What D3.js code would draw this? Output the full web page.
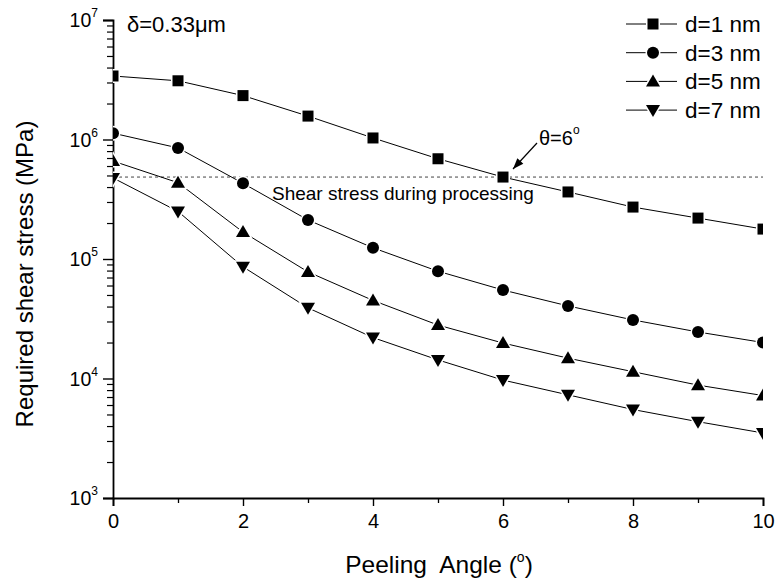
<!DOCTYPE html>
<html><head><meta charset="utf-8">
<script src="https://cdn.jsdelivr.net/npm/d3@7/dist/d3.min.js"></script>
<style>body{margin:0;background:#fff}svg{display:block}text{font-family:"Liberation Sans",Arial,sans-serif;fill:#000}</style>
</head><body><svg id="chart" width="776" height="583"></svg>
<script>
const angles = [0,1,2,3,4,5,6,7,8,9,10];
const d1 = [3.4e6,3.1e6,2.33e6,1.57e6,1.03e6,6.9e5,4.85e5,3.64e5,2.72e5,2.2e5,1.78e5];
const d3v = [1.13e6,8.5e5,4.3e5,2.12e5,1.24e5,7.9e4,5.5e4,4.05e4,3.09e4,2.45e4,2.0e4];
const d5 = [6.6e5,4.35e5,1.68e5,7.8e4,4.5e4,2.8e4,1.98e4,1.48e4,1.14e4,8.8e3,7.2e3];
const d7 = [4.77e5,2.5e5,8.6e4,3.9e4,2.2e4,1.43e4,9.7e3,7.3e3,5.5e3,4.35e3,3.5e3];
const seriesNames = ["d=1 nm","d=3 nm","d=5 nm","d=7 nm"];
const seriesValues = [d1,d3v,d5,d7];
const seriesSymbols = ["square","circle","triUp","triDown"];
const xTicks = [0,2,4,6,8,10];
const yTicks = [1e3,1e4,1e5,1e6,1e7];
const yTickExp = ["3","4","5","6","7"];
const processingStress = 4.85e5;

const svg = d3.select("#chart");
const L=113,R=763,T=20,B=498;
const x = d3.scaleLinear().domain([0,10]).range([L,R]);
const y = d3.scaleLog().domain([1e3,1e7]).range([B,T]);

const defs = svg.append("defs");
defs.append("clipPath").attr("id","clip").append("rect")
  .attr("x",L).attr("y",T-10).attr("width",R-L).attr("height",B-T+10);

// axes
const xAxis = svg.append("g").attr("transform",`translate(0,${B})`)
  .call(d3.axisBottom(x).tickValues(xTicks).tickSize(8).tickPadding(8).tickFormat(d3.format("d")));
svg.append("g").attr("transform",`translate(0,${B})`)
  .call(d3.axisBottom(x).tickValues([1,3,5,7,9]).tickSize(5).tickFormat(""))
  .call(g=>g.select(".domain").remove())
  .selectAll(".tick line").attr("stroke-width",1.3);
xAxis.selectAll("text").style("font-size","20px");
xAxis.select(".domain").attr("stroke-width",1.8);
xAxis.selectAll(".tick line").attr("stroke-width",1.4);

const yAxis = svg.append("g").attr("transform",`translate(${L},0)`)
  .call(d3.axisLeft(y).tickValues(yTicks).tickSize(10).tickFormat(""));
yAxis.select(".domain").attr("stroke-width",1.8);
yAxis.selectAll(".tick line").attr("stroke-width",1.4);
const minors=[];
for(let e=3;e<7;e++) for(let m=2;m<10;m++) minors.push(m*Math.pow(10,e));
svg.append("g").attr("transform",`translate(${L},0)`)
  .call(d3.axisLeft(y).tickValues(minors).tickSize(6).tickFormat(""))
  .call(g=>g.select(".domain").remove())
  .selectAll(".tick line").attr("stroke-width",1.2);
yTicks.forEach((v,i)=>{
  const t = svg.append("text").attr("x",L-15).attr("y",y(v)+7).attr("text-anchor","end").style("font-size","19.5px");
  t.append("tspan").text("10");
  t.append("tspan").attr("dy",-10).style("font-size","12px").text(yTickExp[i]);
});

svg.append("line").attr("x1",L).attr("x2",R).attr("y1",y(processingStress)).attr("y2",y(processingStress))
  .attr("stroke","#444").attr("stroke-width",1).attr("stroke-dasharray","3,3");

const plot = svg.append("g").attr("clip-path","url(#clip)");
const line = d3.line().x((d,i)=>x(angles[i])).y(d=>y(d));
function sym(g,type,cx,cy){
  if(type==="square") g.append("rect").attr("x",cx-5.5).attr("y",cy-5.5).attr("width",11).attr("height",11);
  else if(type==="circle") g.append("circle").attr("cx",cx).attr("cy",cy).attr("r",6);
  else if(type==="triUp") g.append("path").attr("d",`M${cx},${cy-7}L${cx+7},${cy+5}L${cx-7},${cy+5}Z`);
  else g.append("path").attr("d",`M${cx},${cy+7}L${cx+7},${cy-5}L${cx-7},${cy-5}Z`);
}
seriesValues.forEach((vals,s)=>{
  plot.append("path").datum(vals).attr("d",line).attr("fill","none").attr("stroke","#000").attr("stroke-width",1);
  const g = plot.append("g").attr("fill","#000").attr("stroke","#fff").attr("stroke-width",3).style("paint-order","stroke");
  vals.forEach((v,i)=>sym(g,seriesSymbols[s],x(angles[i]),y(v)));
});

seriesNames.forEach((n,i)=>{
  const yy = 24+i*28.7;
  svg.append("line").attr("x1",626).attr("x2",677).attr("y1",yy).attr("y2",yy).attr("stroke","#000").attr("stroke-width",1);
  const g = svg.append("g").attr("fill","#000").attr("stroke","#fff").attr("stroke-width",3).style("paint-order","stroke");
  sym(g,seriesSymbols[i],653,yy);
  svg.append("text").attr("x",685).attr("y",yy+8).style("font-size","22.5px").text(n);
});

svg.append("text").attr("x",127).attr("y",32).style("font-size","22px").text("δ=0.33μm");
svg.append("text").attr("x",272).attr("y",200).style("font-size","19px").text("Shear stress during processing");
const th = svg.append("text").attr("x",539).attr("y",145).style("font-size","20px");
th.append("tspan").text("θ=6");
th.append("tspan").attr("dy",-11).style("font-size","12px").text("o");
defs.append("marker").attr("id","ah").attr("viewBox","0 0 12 10").attr("refX",12).attr("refY",5)
  .attr("markerWidth",12).attr("markerHeight",9).attr("orient","auto").attr("markerUnits","userSpaceOnUse")
  .append("path").attr("d","M0,0.5L12,5L0,9.5Z").attr("fill","#000");
svg.append("line").attr("x1",537).attr("y1",143).attr("x2",513).attr("y2",169).attr("stroke","#000").attr("stroke-width",1.2).attr("marker-end","url(#ah)");

svg.append("text").attr("transform","translate(33,274) rotate(-90)").attr("text-anchor","middle").style("font-size","24px").text("Required shear stress (MPa)");
const xl = svg.append("text").attr("x",439).attr("y",573).attr("text-anchor","middle").style("font-size","24.5px").style("white-space","pre");
xl.append("tspan").text("Peeling  Angle (");
xl.append("tspan").attr("dy",-11).style("font-size","14px").text("o");
xl.append("tspan").attr("dy",11).text(")");
</script></body></html>
